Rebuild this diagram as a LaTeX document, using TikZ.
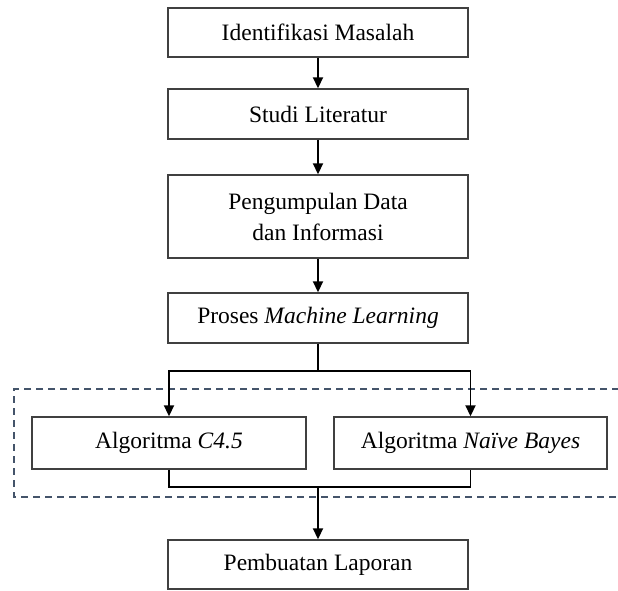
\documentclass[tikz,border=0pt]{standalone}
\usepackage{fontspec}
\setmainfont{Liberation Serif}
\usetikzlibrary{arrows.meta}
\definecolor{dashblue}{HTML}{44546A}
\begin{document}
\begin{tikzpicture}[x=1pt,y=-1pt,
  box/.style={draw=black!75,line width=1.4pt,fill=white,inner sep=0pt,align=center,
    font=\fontsize{23.5}{31}\selectfont},
  arr/.style={line width=1.8pt,-{Triangle[width=10pt,length=11pt]}},
  ln/.style={line width=1.8pt}]
\useasboundingbox (0,0) rectangle (618,590);
% dashed frame
\draw[dashblue,line width=1.4pt,dash pattern=on 7pt off 5pt]
  (619,389) -- (14,389) -- (14,497) -- (619,497);
\node[box,minimum width=300pt,minimum height=49pt] (b1) at (318,32.5) {Identifikasi Masalah};
\node[box,minimum width=300pt,minimum height=50pt] (b2) at (318,114) {Studi Literatur};
\node[box,minimum width=300pt,minimum height=83pt] (b3) at (318,216.5) {Pengumpulan Data\\dan Informasi};
\node[box,minimum width=300pt,minimum height=50pt] (b4) at (318,318) {Proses \textit{Machine Learning}};
\node[box,minimum width=274pt,minimum height=52pt] (c45) at (169,443) {Algoritma \textit{C4.5}};
\node[box,minimum width=273pt,minimum height=52pt] (nb) at (470.5,443) {Algoritma \textit{Naïve Bayes}};
\node[box,minimum width=300pt,minimum height=49pt] (pb) at (318,564.5) {Pembuatan Laporan};
\coordinate (sp) at (318,371);
\coordinate (jn) at (318,487);
\draw[arr] (b1) -- (b2);
\draw[arr] (b2) -- (b3);
\draw[arr] (b3) -- (b4);
\draw[ln] (b4.south) -- (sp);
\draw[arr] (sp) -| (c45.north);
\draw[arr] (sp) -| (nb.north);
\draw[ln] (c45.south) |- (jn) -| (nb.south);
\draw[arr] (jn) -- (pb.north);
\end{tikzpicture}
\end{document}
